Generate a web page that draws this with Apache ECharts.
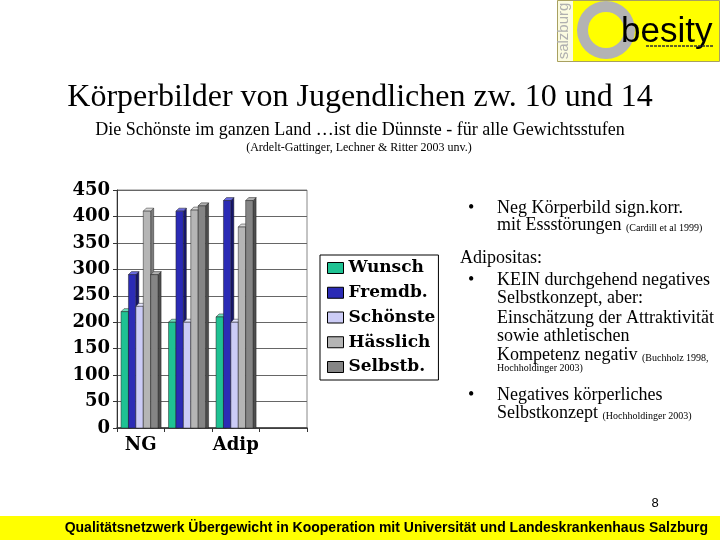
<!DOCTYPE html>
<html>
<head>
<meta charset="utf-8">
<script src="https://cdn.jsdelivr.net/npm/echarts@6/dist/echarts.min.js"></script>
<style>html,body{margin:0;padding:0;background:#fff}#c{width:720px;height:540px}</style>
</head>
<body>
<div id="c"></div>
<script>
const categories = ['NG', 'ÜG', 'Adip', ''];
const seriesNames = ['Wunsch', 'Fremdb.', 'Schönste', 'Hässlich', 'Selbstb.'];
const wunsch   = [220, 200, 210, null];
const fremdb   = [290, 410, 430, null];
const schoenste= [230, 200, 200, null];
const haesslich= [410, 412, 380, null];
const selbstb  = [290, 420, 430, null];
const yTicks = [0, 50, 100, 150, 200, 250, 300, 350, 400, 450];

const values = [wunsch, fremdb, schoenste, haesslich, selbstb];
const colors = [
  {front:'#1fc293', side:'#138063', top:'#6fe0bd'},
  {front:'#2b2bb5', side:'#16166e', top:'#6a6ae0'},
  {front:'#ccccf6', side:'#9a9ac8', top:'#e6e6ff'},
  {front:'#b5b5b5', side:'#7d7d7d', top:'#d8d8d8'},
  {front:'#858585', side:'#4e4e4e', top:'#b0b0b0'}
];

function makeRender(s) {
  return function (params, api) {
    const cat = api.value(0), v = api.value(1);
    if (v == null || isNaN(v)) return;
    const base = api.coord([cat, 0]);
    const top = api.coord([cat, v]);
    const band = api.size([1, 0])[0];
    const bw = band * 0.156;
    const d = 3;
    const x0 = base[0] - band / 2 + band * 0.085 + s * bw;
    const x1 = x0 + bw;
    const yt = top[1], yb = base[1];
    const c = colors[s];
    const line = {stroke: '#222', lineWidth: 0.5};
    return {
      type: 'group',
      children: [
        {type: 'polygon', shape: {points: [[x1, yt], [x1 + d, yt - d], [x1 + d, yb], [x1, yb]]},
         style: Object.assign({fill: c.side}, line)},
        {type: 'polygon', shape: {points: [[x0, yt], [x0 + d, yt - d], [x1 + d, yt - d], [x1, yt]]},
         style: Object.assign({fill: c.top}, line)},
        {type: 'rect', shape: {x: x0, y: yt, width: bw, height: yb - yt},
         style: Object.assign({fill: c.front}, line)}
      ]
    };
  };
}

const series = seriesNames.map((name, s) => ({
  name: name,
  type: 'custom',
  renderItem: makeRender(s),
  encode: {x: 0, y: 1},
  itemStyle: {color: colors[s].front, borderColor: '#000', borderWidth: 1},
  data: values[s].map((v, i) => [i, v]).filter(p => p[1] != null),
  silent: true
}));

const serif = 'Liberation Serif';
const chartFont = 'DejaVu Serif';
const body = {fontSize: 18, fontFamily: serif, color: '#000'};

function txt(x, y, text, style, extra) {
  return Object.assign({
    type: 'text', x: x, y: y,
    style: Object.assign({text: text, verticalAlign: 'middle', fill: '#000'}, style)
  }, extra || {});
}

const rich = {s: {fontSize: 10, fontFamily: serif, fill: '#000', verticalAlign: 'bottom', padding: [0, 0, 1, 0]}};

const graphic = [
  // logo
  {type: 'rect', shape: {x: 557.5, y: 0.5, width: 162, height: 61}, style: {fill: '#ffff00', stroke: '#a8a060', lineWidth: 1}},
  {type: 'rect', shape: {x: 558, y: 1, width: 15, height: 60}, style: {fill: '#fbfbe0'}},
  {type: 'text', x: 571, y: 31, rotation: Math.PI / 2,
   style: {text: 'salzburg', fontSize: 15, fontFamily: 'Liberation Sans', fill: '#b0b0b0', align: 'center', verticalAlign: 'bottom'}},
  {type: 'ring', shape: {cx: 606, cy: 30, r: 29, r0: 18}, style: {fill: '#b3b3b3'}},
  {type: 'text', x: 621, y: 32, style: {text: 'besity', fontSize: 35, fontFamily: 'Liberation Sans', fill: '#000', verticalAlign: 'middle'}},
  {type: 'line', shape: {x1: 646, y1: 46, x2: 714, y2: 46}, style: {stroke: '#333', lineWidth: 1.5, lineDash: [3, 1]}},
  // titles
  txt(360, 98, 'Körperbilder von Jugendlichen zw. 10 und 14', {fontSize: 32, fontFamily: serif, align: 'center'}),
  txt(360, 130, 'Die Schönste im ganzen Land …ist die Dünnste - für alle Gewichtsstufen', {fontSize: 18, fontFamily: serif, align: 'center'}),
  txt(359, 148, '(Ardelt-Gattinger, Lechner & Ritter 2003 unv.)', {fontSize: 12, fontFamily: serif, align: 'center'}),
  // right text
  txt(468, 208, '•', body),
  txt(497, 208, 'Neg Körperbild sign.korr.', body),
  txt(497, 225, 'mit Essstörungen {s|(Cardill et al 1999)}', Object.assign({rich: rich}, body)),
  txt(460, 258, 'Adipositas:', body),
  txt(468, 280, '•', body),
  txt(497, 280, 'KEIN durchgehend negatives', body),
  txt(497, 298, 'Selbstkonzept, aber:', body),
  txt(497, 318, 'Einschätzung der Attraktivität', body),
  txt(497, 336, 'sowie athletischen', body),
  txt(497, 355, 'Kompetenz negativ {s|(Buchholz 1998,}', Object.assign({rich: rich}, body)),
  txt(497, 368, 'Hochholdinger 2003)', {fontSize: 10, fontFamily: serif}),
  txt(468, 395, '•', body),
  txt(497, 395, 'Negatives körperliches', body),
  txt(497, 413, 'Selbstkonzept {s|(Hochholdinger 2003)}', Object.assign({rich: rich}, body)),
  // page number
  txt(655, 503, '8', {fontSize: 13, fontFamily: 'Liberation Sans', align: 'center'}),
  // footer
  {type: 'rect', shape: {x: 0, y: 516, width: 720, height: 24}, style: {fill: '#ffff00'}},
  txt(708, 528, 'Qualitätsnetzwerk Übergewicht in Kooperation mit Universität und Landeskrankenhaus Salzburg',
      {fontSize: 14, fontFamily: 'Liberation Sans', fontWeight: 'bold', align: 'right'})
];

const chart = echarts.init(document.getElementById('c'), null, {renderer: 'canvas'});
chart.setOption({
  backgroundColor: '#fff',
  animation: false,
  grid: {left: 117, top: 190, width: 190, bottom: 112, show: true, borderColor: '#888', borderWidth: 1, backgroundColor: 'transparent'},
  xAxis: {
    type: 'category', data: categories,
    axisLine: {lineStyle: {color: '#333', width: 1.5}},
    axisTick: {show: true, interval: 0, length: 4, lineStyle: {color: '#333'}},
    axisLabel: {interval: 1, margin: 8, fontSize: 18, fontWeight: 'bold', fontFamily: chartFont, color: '#000'},
    splitLine: {show: false}
  },
  yAxis: {
    type: 'value', min: yTicks[0], max: yTicks[yTicks.length - 1], interval: 50,
    axisLine: {show: true, lineStyle: {color: '#333', width: 1}},
    axisTick: {show: true, length: 4, lineStyle: {color: '#333'}},
    axisLabel: {margin: 7, fontSize: 18, fontWeight: 'bold', fontFamily: chartFont, color: '#000'},
    splitLine: {show: true, lineStyle: {color: '#666', width: 1}}
  },
  legend: {
    orient: 'vertical', left: 320, top: 255,
    data: seriesNames,
    icon: 'rect', itemWidth: 16, itemHeight: 11, itemGap: 6.75,
    padding: [4, 3, 4, 7],
    borderColor: '#000', borderWidth: 1, backgroundColor: '#fff',
    itemStyle: {borderColor: '#000', borderWidth: 1},
    textStyle: {fontSize: 17, fontWeight: 'bold', fontFamily: chartFont, color: '#000', lineHeight: 18}
  },
  series: series,
  graphic: graphic
});
</script>
</body>
</html>
